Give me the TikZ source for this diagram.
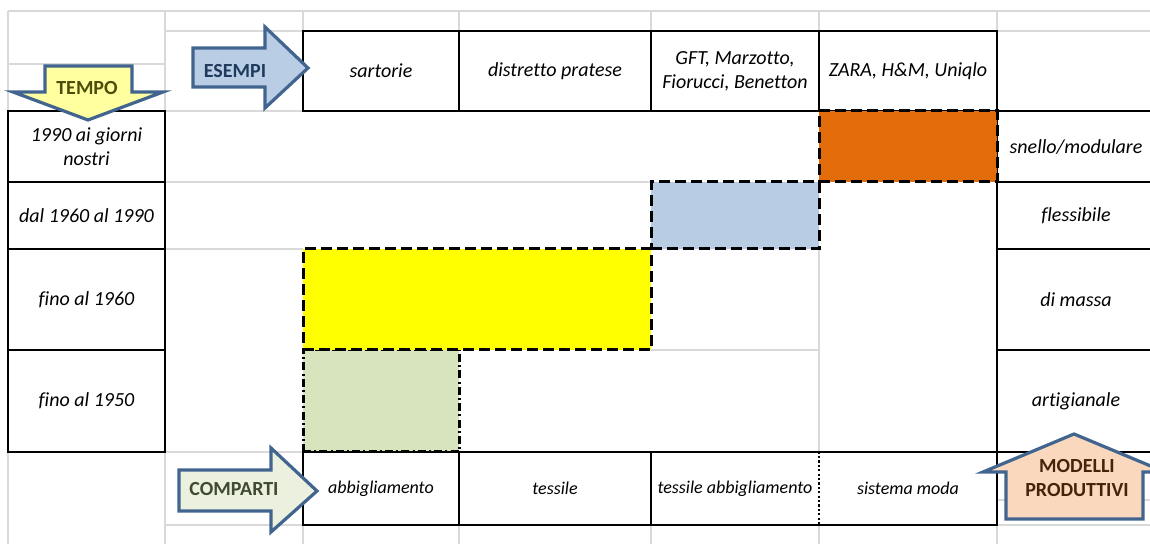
\documentclass[tikz,border=0pt]{standalone}
\usepackage{fontspec}
\setmainfont{Carlito}[Ligatures=NoCommon]
\definecolor{gridgray}{HTML}{D9D9D9}
\definecolor{arrowblue}{HTML}{41658F}
\definecolor{orangebox}{HTML}{E36C0A}
\definecolor{bluebox}{HTML}{B8CCE4}
\definecolor{yellowbox}{HTML}{FFFF00}
\definecolor{greenbox}{HTML}{D8E4BD}
\definecolor{tempofill}{HTML}{FFFF9F}
\definecolor{tempotext}{HTML}{4D4D0A}
\definecolor{esempifill}{HTML}{B9CDE5}
\definecolor{esempitext}{HTML}{1F3A5C}
\definecolor{compartifill}{HTML}{EBF1DE}
\definecolor{compartitext}{HTML}{404A30}
\definecolor{modellifill}{HTML}{F9D8BE}
\definecolor{modellitext}{HTML}{45230A}
\begin{document}
\begin{tikzpicture}[x=0.5pt,y=-0.5pt,
  grid/.style={draw=gridgray,line width=0.75pt},
  cellline/.style={draw=black,line width=1pt},
  cell/.style={inner sep=0pt,align=center,font=\fontsize{10}{12}\selectfont\itshape},
  smallcell/.style={inner sep=0pt,align=center,font=\fontsize{9}{11}\selectfont\itshape},
  dashbox/.style={inner sep=0pt,draw=black,line width=1.5pt,dash pattern=on 5.5pt off 2.5pt},
  dashdotbox/.style={inner sep=0pt,draw=black,line width=1.5pt,dash pattern=on 4pt off 1.6pt on 1pt off 1.6pt},
  bigarrow/.style={draw=arrowblue,line width=1.6pt,line join=miter},
  arrowlabel/.style={inner sep=0pt,align=center,font=\fontsize{10}{12}\selectfont\bfseries}
]
\useasboundingbox (0,0) rectangle (1150,544);
\clip (0,0) rectangle (1150,544);

% spreadsheet grid
\draw[grid] (8,11) -- (1150,11);
\draw[grid] (165,31) -- (1150,31);
\draw[grid] (8,64) -- (165,64);
\draw[grid] (165,111) -- (303,111);
\draw[grid] (165,182) -- (651,182);
\draw[grid] (165,249) -- (303,249);
\draw[grid] (651,350) -- (819,350);
\draw[grid] (165,452) -- (303,452);
\draw[grid] (997,500) -- (1150,500);
\draw[grid] (165,525) -- (1150,525);
\draw[grid] (8,11) -- (8,544);
\draw[grid] (165,11) -- (165,544);
\foreach \gx in {303,459,651,819,997}{
  \draw[grid] (\gx,11) -- (\gx,31);
  \draw[grid] (\gx,525) -- (\gx,544);
}
\draw[grid] (819,249) -- (819,452);

% time periods (left column)
\node[cell,cellline,minimum width=78.5pt,minimum height=35.5pt] (t1) at (86.5,146.5) {1990 ai giorni\\nostri};
\node[cell,cellline,minimum width=78.5pt,minimum height=33.5pt] (t2) at (86.5,215.5) {dal 1960 al 1990};
\node[cell,cellline,minimum width=78.5pt,minimum height=50.5pt] (t3) at (86.5,299.5) {fino al 1960};
\node[cell,cellline,minimum width=78.5pt,minimum height=51pt] (t4) at (86.5,401) {fino al 1950};

% examples (top row)
\node[cell,cellline,minimum width=78pt,minimum height=40pt] (e1) at (381,71) {sartorie};
\node[cell,cellline,minimum width=96pt,minimum height=40pt] (e2) at (555,71) {distretto pratese};
\node[cell,cellline,minimum width=84pt,minimum height=40pt] (e3) at (735,71) {GFT, Marzotto,\\Fiorucci, Benetton};
\node[cell,cellline,minimum width=89pt,minimum height=40pt] (e4) at (908,71) {ZARA, H\&M, Uniqlo};

% production models (right column, open on the right)
\node[cell,minimum width=79pt,minimum height=35.5pt] (m1) at (1076,146.5) {snello/modulare};
\node[cell,minimum width=79pt,minimum height=33.5pt] (m2) at (1076,215.5) {flessibile};
\node[cell,minimum width=79pt,minimum height=50.5pt] (m3) at (1076,299.5) {di massa};
\node[cell,minimum width=79pt,minimum height=51pt] (m4) at (1076,401) {artigianale};
\draw[cellline] (m1.north east) -- (m1.north west) -- (m4.south west) -- (m4.south east);
\draw[cellline] (m1.south west) -- (m1.south east);
\draw[cellline] (m2.south west) -- (m2.south east);
\draw[cellline] (m3.south west) -- (m3.south east);

% sectors (bottom row)
\node[smallcell,minimum width=78pt,minimum height=36.5pt] (b1) at (381,488.5) {abbigliamento};
\node[smallcell,minimum width=96pt,minimum height=36.5pt] (b2) at (555,488.5) {tessile};
\node[smallcell,minimum width=84pt,minimum height=36.5pt] (b3) at (735,488.5) {tessile abbigliamento};
\node[smallcell,minimum width=89pt,minimum height=36.5pt] (b4) at (908,488.5) {sistema moda};
\draw[cellline] (b1.north west) rectangle (b4.south east);
\draw[cellline] (b1.north east) -- (b1.south east);
\draw[cellline] (b2.north east) -- (b2.south east);
\draw[black,line width=1pt,dash pattern=on 1.1pt off 1.1pt] (b3.north east) -- (b3.south east);

% highlighted periods
\node[dashdotbox,fill=greenbox,minimum width=78pt,minimum height=51pt] (gbox) at (381,401) {};
\node[dashbox,fill=yellowbox,minimum width=174pt,minimum height=50.5pt] (ybox) at (477,299.5) {};
\node[dashbox,fill=bluebox,minimum width=84pt,minimum height=33.5pt] (bbox) at (735,215.5) {};
\node[dashbox,fill=orangebox,minimum width=89pt,minimum height=35.5pt] (obox) at (908,146.5) {};
\draw[cellline] (b1.north west) -- (b4.north east);

% block arrows
\draw[bigarrow,fill=tempofill] (45,66) -- (132,66) -- (132,92) -- (163,92) -- (88,120) -- (13,92) -- (45,92) -- cycle;
\node[arrowlabel,text=tempotext] (tempo) at (87,88) {TEMPO};

\draw[bigarrow,fill=esempifill] (193,48) -- (265,48) -- (265,27) -- (308,68) -- (265,108) -- (265,87) -- (193,87) -- cycle;
\node[arrowlabel,text=esempitext] (esempi) at (235,71) {ESEMPI};

\draw[bigarrow,fill=compartifill] (179,470) -- (271,470) -- (271,448) -- (317,491) -- (271,532) -- (271,511) -- (179,511) -- cycle;
\node[arrowlabel,text=compartitext] (comparti) at (234,489) {COMPARTI};

\draw[bigarrow,fill=modellifill] (1006,519) -- (1006,472) -- (983,472) -- (1074,434) -- (1165,472) -- (1143,472) -- (1143,519) -- cycle;
\node[arrowlabel,text=modellitext] (modelli) at (1077,478) {MODELLI\\PRODUTTIVI};
\end{tikzpicture}
\end{document}
